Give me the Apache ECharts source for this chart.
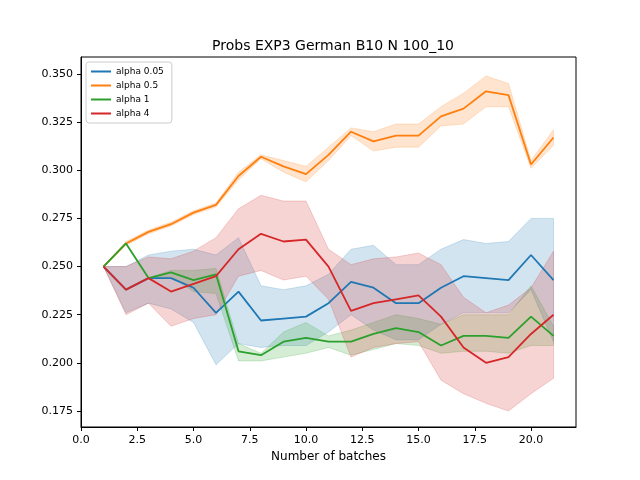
<!DOCTYPE html>
<html>
<head>
<meta charset="utf-8">
<script src="https://cdn.jsdelivr.net/npm/echarts@6/dist/echarts.min.js"></script>
<style>body{margin:0}#chart{width:640px;height:480px}</style>
</head>
<body>
<div id="chart"></div>
<script>
// batch numbers
const batches = [1,2,3,4,5,6,7,8,9,10,11,12,13,14,15,16,17,18,19,20,21];
const names = ['alpha 0.05', 'alpha 0.5', 'alpha 1', 'alpha 4'];
const colors = ['#1f77b4', '#ff7f0e', '#2ca02c', '#d62728'];

const meanA005 = [0.250,0.238,0.244,0.244,0.239,0.226,0.237,0.222,0.223,0.224,0.231,0.242,0.239,0.231,0.231,0.239,0.245,0.244,0.243,0.256,0.243];
const lowA005  = [0.250,0.226,0.231,0.228,0.221,0.199,0.210,0.208,0.209,0.209,0.216,0.225,0.217,0.212,0.212,0.220,0.226,0.226,0.226,0.238,0.211];
const highA005 = [0.250,0.250,0.256,0.258,0.259,0.256,0.265,0.240,0.238,0.240,0.246,0.259,0.261,0.251,0.251,0.259,0.264,0.262,0.263,0.275,0.275];

const meanA05 = [0.250,0.262,0.268,0.272,0.278,0.282,0.297,0.307,0.302,0.298,0.308,0.320,0.315,0.318,0.318,0.328,0.332,0.341,0.339,0.303,0.317];
const lowA05  = [0.250,0.261,0.267,0.271,0.277,0.281,0.295,0.306,0.299,0.294,0.305,0.318,0.310,0.312,0.312,0.323,0.324,0.333,0.333,0.301,0.313];
const highA05 = [0.250,0.263,0.269,0.273,0.279,0.283,0.299,0.308,0.305,0.302,0.312,0.322,0.320,0.324,0.324,0.333,0.340,0.349,0.345,0.305,0.321];

const meanA1 = [0.250,0.262,0.244,0.247,0.243,0.246,0.206,0.204,0.211,0.213,0.211,0.211,0.215,0.218,0.216,0.209,0.214,0.214,0.213,0.224,0.214];
const lowA1  = [0.250,0.262,0.244,0.245,0.237,0.236,0.201,0.201,0.203,0.205,0.208,0.204,0.207,0.210,0.209,0.205,0.206,0.206,0.205,0.209,0.209];
const highA1 = [0.250,0.262,0.244,0.248,0.248,0.249,0.210,0.205,0.216,0.221,0.214,0.217,0.221,0.225,0.223,0.220,0.225,0.225,0.225,0.240,0.219];

const meanA4 = [0.250,0.238,0.244,0.237,0.241,0.245,0.259,0.267,0.263,0.264,0.250,0.227,0.231,0.233,0.235,0.224,0.208,0.200,0.203,0.215,0.225];
const lowA4  = [0.250,0.225,0.231,0.219,0.223,0.225,0.245,0.248,0.243,0.245,0.233,0.203,0.208,0.210,0.211,0.191,0.184,0.179,0.175,0.184,0.192];
const highA4 = [0.250,0.250,0.255,0.254,0.258,0.265,0.280,0.287,0.284,0.284,0.259,0.251,0.254,0.255,0.257,0.251,0.234,0.226,0.230,0.239,0.258];

const yTicks = [0.175,0.200,0.225,0.250,0.275,0.300,0.325,0.350];
const xTicks = [0,2.5,5,7.5,10,12.5,15,17.5,20];

const means = [meanA005, meanA05, meanA1, meanA4];
const lows = [lowA005, lowA05, lowA1, lowA4];
const highs = [highA005, highA05, highA1, highA4];

const series = [];
// confidence bands as polygons through the axis scales
means.forEach((m, i) => {
    series.push({
        name: 'band' + i, type: 'custom', silent: true, z: 1,
        data: batches.map((b, k) => [b, lows[i][k], highs[i][k]]),
        renderItem: (params, api) => {
            if (params.dataIndex !== 0) return null;
            const pts = [];
            batches.forEach((b, k) => pts.push(api.coord([b, highs[i][k]])));
            for (let k = batches.length - 1; k >= 0; k--) pts.push(api.coord([batches[k], lows[i][k]]));
            return {
                type: 'polygon', shape: { points: pts },
                style: { fill: colors[i], opacity: 0.2, stroke: colors[i], lineWidth: 1 }
            };
        }
    });
});
means.forEach((m, i) => {
    series.push({
        name: names[i], type: 'line', symbol: 'none', z: 5,
        lineStyle: { width: 1.8, color: colors[i] }, itemStyle: { color: colors[i] },
        data: batches.map((b, k) => [b, m[k]])
    });
});

const chart = echarts.init(document.getElementById('chart'));
chart.setOption({
    animation: false,
    title: { text: 'Probs EXP3 German B10 N 100_10', left: 328, top: 34, textAlign: 'center',
        textStyle: { fontFamily: 'DejaVu Sans', fontSize: 14, fontWeight: 'normal', color: '#000' } },
    legend: {
        data: names, orient: 'vertical', left: 86, top: 62, itemWidth: 20, itemHeight: 2, itemGap: 5,
        icon: 'rect', borderColor: '#ccc', borderWidth: 1, borderRadius: 3, padding: [5, 8, 5, 5],
        backgroundColor: 'rgba(255,255,255,0.8)',
        textStyle: { fontFamily: 'DejaVu Sans', fontSize: 9, color: '#000' }
    },
    grid: { left: 81, right: 64, top: 57, bottom: 53 },
    xAxis: {
        type: 'value', min: 0, max: 22, name: 'Number of batches', nameLocation: 'middle', nameGap: 24,
        nameTextStyle: { fontFamily: 'DejaVu Sans', fontSize: 12, color: '#000' },
        axisLine: { lineStyle: { color: '#000' } },
        axisTick: { show: true, customValues: xTicks, length: 4, lineStyle: { color: '#000' } },
        axisLabel: { customValues: xTicks, formatter: v => v.toFixed(1), fontFamily: 'DejaVu Sans', fontSize: 11, color: '#000' },
        splitLine: { show: false }
    },
    yAxis: {
        type: 'value', min: 0.1667, max: 0.3588,
        axisLine: { show: true, lineStyle: { color: '#000' } },
        axisTick: { show: true, customValues: yTicks, length: 4, lineStyle: { color: '#000' } },
        axisLabel: { customValues: yTicks, formatter: v => v.toFixed(3), fontFamily: 'DejaVu Sans', fontSize: 11, color: '#000' },
        splitLine: { show: false }
    },
    series: series
});
// top and right frame lines
chart.setOption({
    graphic: [{ type: 'rect', shape: { x: 81, y: 57, width: 495, height: 370 }, style: { fill: 'none', stroke: '#000', lineWidth: 1 }, silent: true }]
});
</script>
</body>
</html>
